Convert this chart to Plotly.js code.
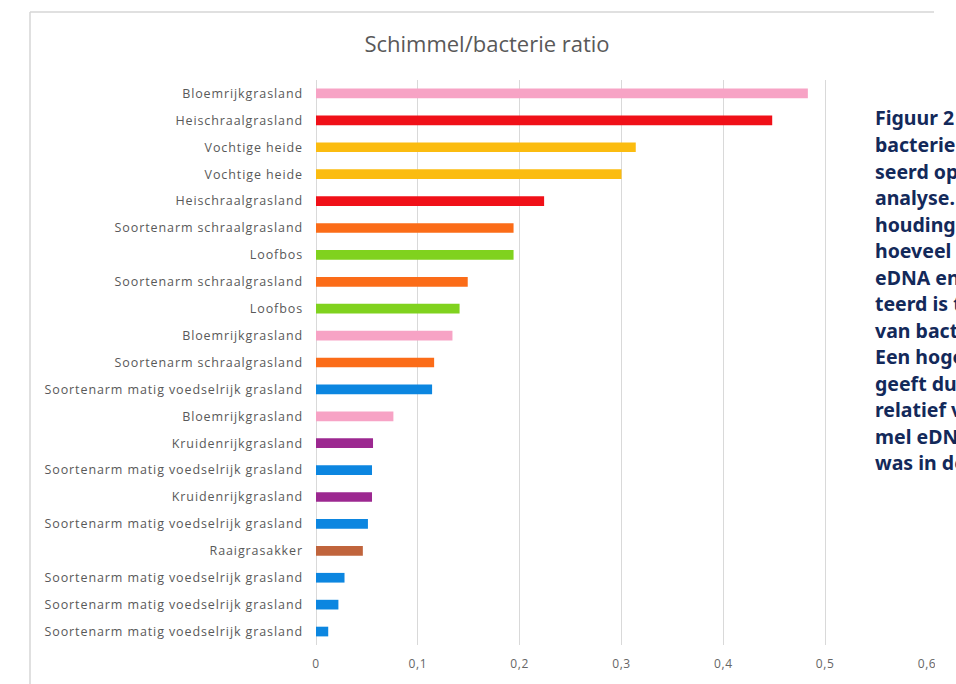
<!DOCTYPE html>
<html>
<head>
<meta charset="utf-8">
<script src="https://cdn.plot.ly/plotly-3.0.1.min.js"></script>
<style>
html,body{margin:0;padding:0;background:#fff;overflow:hidden;}
#chart{width:956px;height:684px;}
#chart .ytick text{letter-spacing:0.9px;}
#chart .xtick text{letter-spacing:0.6px;}
</style>
</head>
<body>
<div id="chart"></div>
<script>
// ---- data ----
const labels = [
  "Bloemrijkgrasland",
  "Heischraalgrasland",
  "Vochtige heide",
  "Vochtige heide",
  "Heischraalgrasland",
  "Soortenarm schraalgrasland",
  "Loofbos",
  "Soortenarm schraalgrasland",
  "Loofbos",
  "Bloemrijkgrasland",
  "Soortenarm schraalgrasland",
  "Soortenarm matig voedselrijk grasland",
  "Bloemrijkgrasland",
  "Kruidenrijkgrasland",
  "Soortenarm matig voedselrijk grasland",
  "Kruidenrijkgrasland",
  "Soortenarm matig voedselrijk grasland",
  "Raaigrasakker",
  "Soortenarm matig voedselrijk grasland",
  "Soortenarm matig voedselrijk grasland",
  "Soortenarm matig voedselrijk grasland"
];
const ratios = [0.483, 0.448, 0.314, 0.300, 0.224, 0.194, 0.194, 0.149, 0.141, 0.134, 0.116, 0.114, 0.076, 0.056, 0.055, 0.055, 0.051, 0.046, 0.028, 0.022, 0.012];
const typeColors = {
  "Bloemrijkgrasland": "#f7a3c5",
  "Heischraalgrasland": "#f01018",
  "Vochtige heide": "#fbbc10",
  "Soortenarm schraalgrasland": "#fb6c18",
  "Loofbos": "#80d21e",
  "Soortenarm matig voedselrijk grasland": "#0c86e0",
  "Kruidenrijkgrasland": "#9c2890",
  "Raaigrasakker": "#c0643c"
};
const xTicks = [0, 0.1, 0.2, 0.3, 0.4, 0.5, 0.6];
const chartTitle = "Schimmel/bacterie ratio";
const captionLines = [
  "Figuur 2",
  "bacterie",
  "seerd op",
  "analyse.",
  "houding",
  "hoeveel",
  "eDNA en",
  "teerd is t",
  "van bact",
  "Een hoge",
  "geeft du",
  "relatief v",
  "mel eDN",
  "was in de"
];

// ---- layout geometry ----
const W = 956, H = 684;
const M = {l: 316, r: 29, t: 80, b: 39};
const pw = W - M.l - M.r, ph = H - M.t - M.b;
const px = v => (v - M.l) / pw;
const py = v => 1 - (v - M.t) / ph;

const idx = labels.map((_, i) => i);

const trace = {
  type: "bar",
  orientation: "h",
  x: ratios,
  y: idx,
  marker: {color: labels.map(l => typeColors[l])},
  hoverinfo: "x+text",
  text: labels,
  textposition: "none"
};

const shapes = [
  // white area right of the (cropped) chart image
  {type: "rect", xref: "paper", yref: "paper", x0: px(935), x1: px(970), y0: py(-5), y1: py(690), fillcolor: "#ffffff", line: {width: 0}, layer: "above"},
  // chart frame
  {type: "line", xref: "paper", yref: "paper", x0: px(30), x1: px(934), y0: py(12), y1: py(12), line: {color: "#d6d6d6", width: 1.5}, layer: "above"},
  {type: "line", xref: "paper", yref: "paper", x0: px(30), x1: px(30), y0: py(12), y1: py(684), line: {color: "#d6d6d6", width: 1.5}, layer: "above"}
];

const annotations = captionLines.map((t, i) => ({
  xref: "paper", yref: "paper",
  x: px(873), y: py(118 + i * 26.5),
  xanchor: "left", yanchor: "middle",
  showarrow: false,
  text: t,
  font: {family: "'Noto Sans', 'Open Sans', sans-serif", size: 19.5, color: "#13295a", weight: 700}
}));

const layout = {
  width: W, height: H,
  margin: M,
  paper_bgcolor: "#ffffff",
  plot_bgcolor: "#ffffff",
  separators: ", ",
  showlegend: false,
  bargap: 0.64,
  title: {
    text: chartTitle,
    x: px(487), xanchor: "center", xref: "paper",
    y: 1 - 44 / H, yanchor: "middle",
    font: {family: "'Open Sans', sans-serif", size: 22, color: "#595959"}
  },
  xaxis: {
    range: [0, 0.6],
    tickvals: xTicks,
    showgrid: true,
    gridcolor: "#d9d9d9",
    gridwidth: 1,
    zeroline: true,
    zerolinecolor: "#d9d9d9",
    zerolinewidth: 1,
    showline: false,
    ticks: "",
    ticklabelstandoff: 10,
    tickfont: {family: "'Open Sans', sans-serif", size: 12, color: "#666666"},
    fixedrange: true
  },
  yaxis: {
    tickvals: idx,
    ticktext: labels,
    autorange: "reversed",
    showgrid: false,
    zeroline: false,
    showline: false,
    ticks: "",
    ticklabelstandoff: 12,
    tickfont: {family: "'Open Sans', sans-serif", size: 12.5, color: "#595959"},
    fixedrange: true
  },
  shapes: shapes,
  annotations: annotations
};

Plotly.newPlot("chart", [trace], layout, {displayModeBar: false, staticPlot: true});
</script>
</body>
</html>
